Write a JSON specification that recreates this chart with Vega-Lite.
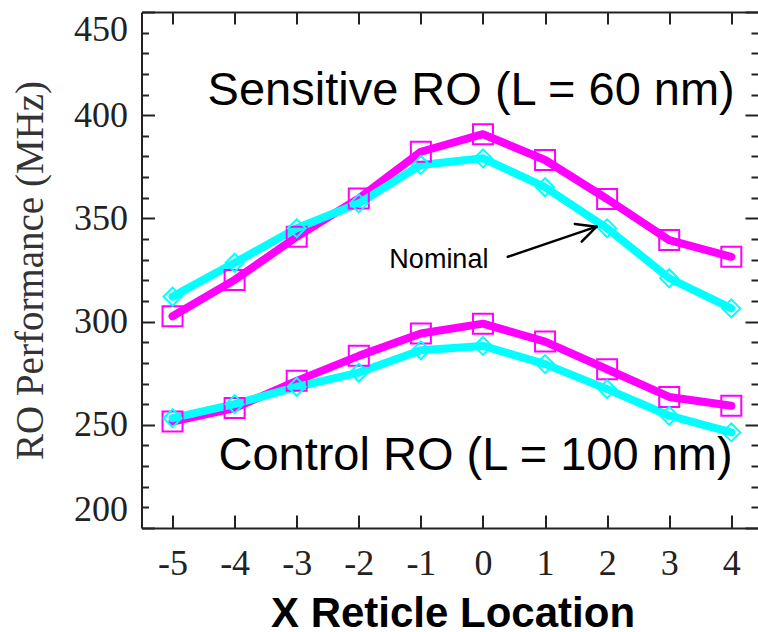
{
  "$schema": "https://vega.github.io/schema/vega-lite/v6.json",
  "autosize": "none",
  "padding": {"left": 141.5, "top": 12, "right": 0, "bottom": 104},
  "width": 616.5,
  "height": 516,
  "background": "white",
  "config": {"view": {"stroke": null}},
  "datasets": {
    "ro": [
      {"loc": -5, "mhz": 302.6, "curve": "Shifted", "ro": "Sensitive"},
      {"loc": -4, "mhz": 320.2, "curve": "Shifted", "ro": "Sensitive"},
      {"loc": -3, "mhz": 341.1, "curve": "Shifted", "ro": "Sensitive"},
      {"loc": -2, "mhz": 359.7, "curve": "Shifted", "ro": "Sensitive"},
      {"loc": -1, "mhz": 382.3, "curve": "Shifted", "ro": "Sensitive"},
      {"loc": 0, "mhz": 390.8, "curve": "Shifted", "ro": "Sensitive"},
      {"loc": 1, "mhz": 378.3, "curve": "Shifted", "ro": "Sensitive"},
      {"loc": 2, "mhz": 359.4, "curve": "Shifted", "ro": "Sensitive"},
      {"loc": 3, "mhz": 339.5, "curve": "Shifted", "ro": "Sensitive"},
      {"loc": 4, "mhz": 331.4, "curve": "Shifted", "ro": "Sensitive"},
      {"loc": -5, "mhz": 312.1, "curve": "Nominal", "ro": "Sensitive"},
      {"loc": -4, "mhz": 328.5, "curve": "Nominal", "ro": "Sensitive"},
      {"loc": -3, "mhz": 345.2, "curve": "Nominal", "ro": "Sensitive"},
      {"loc": -2, "mhz": 357.3, "curve": "Nominal", "ro": "Sensitive"},
      {"loc": -1, "mhz": 375.9, "curve": "Nominal", "ro": "Sensitive"},
      {"loc": 0, "mhz": 379.1, "curve": "Nominal", "ro": "Sensitive"},
      {"loc": 1, "mhz": 365.1, "curve": "Nominal", "ro": "Sensitive"},
      {"loc": 2, "mhz": 345.2, "curve": "Nominal", "ro": "Sensitive"},
      {"loc": 3, "mhz": 321.0, "curve": "Nominal", "ro": "Sensitive"},
      {"loc": 4, "mhz": 306.4, "curve": "Nominal", "ro": "Sensitive"},
      {"loc": -5, "mhz": 251.6, "curve": "Shifted", "ro": "Control"},
      {"loc": -4, "mhz": 258.1, "curve": "Shifted", "ro": "Control"},
      {"loc": -3, "mhz": 271.3, "curve": "Shifted", "ro": "Control"},
      {"loc": -2, "mhz": 283.4, "curve": "Shifted", "ro": "Control"},
      {"loc": -1, "mhz": 294.2, "curve": "Shifted", "ro": "Control"},
      {"loc": 0, "mhz": 299.0, "curve": "Shifted", "ro": "Control"},
      {"loc": 1, "mhz": 290.3, "curve": "Shifted", "ro": "Control"},
      {"loc": 2, "mhz": 276.9, "curve": "Shifted", "ro": "Control"},
      {"loc": 3, "mhz": 263.5, "curve": "Shifted", "ro": "Control"},
      {"loc": 4, "mhz": 259.2, "curve": "Shifted", "ro": "Control"},
      {"loc": -5, "mhz": 253.2, "curve": "Nominal", "ro": "Control"},
      {"loc": -4, "mhz": 260.0, "curve": "Nominal", "ro": "Control"},
      {"loc": -3, "mhz": 268.4, "curve": "Nominal", "ro": "Control"},
      {"loc": -2, "mhz": 275.3, "curve": "Nominal", "ro": "Control"},
      {"loc": -1, "mhz": 286.1, "curve": "Nominal", "ro": "Control"},
      {"loc": 0, "mhz": 288.2, "curve": "Nominal", "ro": "Control"},
      {"loc": 1, "mhz": 279.4, "curve": "Nominal", "ro": "Control"},
      {"loc": 2, "mhz": 267.3, "curve": "Nominal", "ro": "Control"},
      {"loc": 3, "mhz": 254.4, "curve": "Nominal", "ro": "Control"},
      {"loc": 4, "mhz": 246.3, "curve": "Nominal", "ro": "Control"}
    ]
  },
  "resolve": {"axis": {"x": "independent", "y": "independent"}},
  "layer": [
    {
      "data": {"name": "ro"},
      "transform": [{"filter": "datum.curve === 'Shifted'"}],
      "mark": {"type": "line", "color": "#FF00FF", "strokeWidth": 8, "strokeJoin": "round", "strokeCap": "round"},
      "encoding": {
        "x": {
          "field": "loc", "type": "quantitative",
          "scale": {"domain": [-5.5, 4.43], "nice": false, "zero": false},
          "axis": {
            "orient": "bottom", "values": [-5, -4, -3, -2, -1, 0, 1, 2, 3, 4],
            "labelExpr": "datum.value < 0 ? '-' + abs(datum.value) : '' + datum.value",
            "grid": false, "tickSize": -13, "tickWidth": 2, "tickColor": "#222",
            "domainColor": "#222", "domainWidth": 2,
            "labelFont": "Liberation Serif", "labelFontSize": 36, "labelColor": "#222",
            "labelPadding": 31, "labelFlush": false, "labelOverlap": false, "labelBaseline": "top",
            "title": "X Reticle Location", "titleFont": "Liberation Sans", "titleFontSize": 42,
            "titleFontWeight": "bold", "titleColor": "black", "titleBaseline": "alphabetic",
            "titleY": 98, "titleX": 311
          }
        },
        "y": {
          "field": "mhz", "type": "quantitative",
          "scale": {"domain": [200, 450], "nice": false, "zero": false},
          "axis": {
            "orient": "left", "values": [200, 250, 300, 350, 400, 450],
            "grid": false, "tickSize": -13, "tickWidth": 2, "tickColor": "#222",
            "domainColor": "#222", "domainWidth": 2,
            "labelFont": "Liberation Serif", "labelFontSize": 36, "labelColor": "#222",
            "labelPadding": 27, "labelOverlap": false, "labelFlush": true, "labelFlushOffset": 0,
            "title": "RO Performance (MHz)", "titleFont": "Liberation Serif", "titleFontSize": 39,
            "titleFontWeight": "normal", "titleColor": "#333", "titleAngle": -90,
            "titleBaseline": "alphabetic", "titleAlign": "center", "titleX": -99.5, "titleY": 258
          }
        },
        "detail": {"field": "ro"}
      }
    },
    {
      "data": {"name": "ro"},
      "transform": [{"filter": "datum.curve === 'Nominal'"}],
      "mark": {"type": "line", "color": "#00FFFF", "strokeWidth": 8, "strokeJoin": "round", "strokeCap": "round"},
      "encoding": {
        "x": {
          "field": "loc", "type": "quantitative",
          "scale": {"domain": [-5.5, 4.43], "nice": false, "zero": false},
          "axis": {
            "orient": "top", "values": [-5, -4, -3, -2, -1, 0, 1, 2, 3, 4],
            "grid": false, "labels": false, "title": null,
            "tickSize": -12, "tickWidth": 2, "tickColor": "#222",
            "domainColor": "#222", "domainWidth": 2
          }
        },
        "y": {
          "field": "mhz", "type": "quantitative",
          "scale": {"domain": [200, 450], "nice": false, "zero": false},
          "axis": {
            "orient": "left", "values": [210, 220, 230, 240, 260, 270, 280, 290, 310, 320, 330, 340, 360, 370, 380, 390, 410, 420, 430, 440],
            "grid": false, "labels": false, "title": null, "domain": false,
            "tickSize": -7, "tickWidth": 2, "tickColor": "#222"
          }
        },
        "detail": {"field": "ro"}
      }
    },
    {
      "data": {"name": "ro"},
      "transform": [{"filter": "datum.curve === 'Shifted'"}],
      "mark": {"type": "point", "shape": "square", "size": 400, "filled": false, "color": "#FF00FF", "strokeWidth": 2, "opacity": 1},
      "encoding": {
        "x": {"field": "loc", "type": "quantitative", "scale": {"domain": [-5.5, 4.43], "nice": false, "zero": false}, "axis": null},
        "y": {
          "field": "mhz", "type": "quantitative",
          "scale": {"domain": [200, 450], "nice": false, "zero": false},
          "axis": {
            "orient": "right", "values": [200, 250, 300, 350, 400, 450],
            "grid": false, "labels": false, "title": null, "domain": false,
            "tickSize": -13, "tickWidth": 2, "tickColor": "#222"
          }
        }
      }
    },
    {
      "data": {"name": "ro"},
      "transform": [{"filter": "datum.curve === 'Nominal'"}],
      "mark": {"type": "point", "shape": "diamond", "size": 324, "filled": false, "color": "#00FFFF", "strokeWidth": 2, "opacity": 1},
      "encoding": {
        "x": {"field": "loc", "type": "quantitative", "scale": {"domain": [-5.5, 4.43], "nice": false, "zero": false}, "axis": null},
        "y": {
          "field": "mhz", "type": "quantitative",
          "scale": {"domain": [200, 450], "nice": false, "zero": false},
          "axis": {
            "orient": "right", "values": [210, 220, 230, 240, 260, 270, 280, 290, 310, 320, 330, 340, 360, 370, 380, 390, 410, 420, 430, 440],
            "grid": false, "labels": false, "title": null, "domain": false,
            "tickSize": -7, "tickWidth": 2, "tickColor": "#222"
          }
        }
      }
    },
    {
      "data": {"values": [
        {"label": "Sensitive RO (L = 60 nm)", "loc": -0.19, "mhz": 404.9},
        {"label": "Control RO (L = 100 nm)", "loc": -0.12, "mhz": 228.1}
      ]},
      "mark": {"type": "text", "font": "Liberation Sans", "fontSize": 47, "color": "black", "align": "center", "baseline": "alphabetic"},
      "encoding": {
        "x": {"field": "loc", "type": "quantitative", "scale": {"domain": [-5.5, 4.43], "nice": false, "zero": false}, "axis": null},
        "y": {"field": "mhz", "type": "quantitative", "scale": {"domain": [200, 450], "nice": false, "zero": false}, "axis": null},
        "text": {"field": "label"}
      }
    },
    {
      "data": {"values": [
        {"label": "Nominal", "loc": -0.71, "mhz": 325.8}
      ]},
      "mark": {"type": "text", "font": "Liberation Sans", "fontSize": 27, "color": "black", "align": "center", "baseline": "alphabetic"},
      "encoding": {
        "x": {"field": "loc", "type": "quantitative", "scale": {"domain": [-5.5, 4.43], "nice": false, "zero": false}, "axis": null},
        "y": {"field": "mhz", "type": "quantitative", "scale": {"domain": [200, 450], "nice": false, "zero": false}, "axis": null},
        "text": {"field": "label"}
      }
    },
    {
      "data": {"values": [
        {"loc": 0.40, "mhz": 331.4, "loc2": 1.83, "mhz2": 346.0},
        {"loc": 1.83, "mhz": 346.0, "loc2": 1.48, "mhz2": 347.3},
        {"loc": 1.83, "mhz": 346.0, "loc2": 1.59, "mhz2": 338.7}
      ]},
      "mark": {"type": "rule", "color": "black", "strokeWidth": 2.5, "strokeCap": "round"},
      "encoding": {
        "x": {"field": "loc", "type": "quantitative", "scale": {"domain": [-5.5, 4.43], "nice": false, "zero": false}, "axis": null},
        "y": {"field": "mhz", "type": "quantitative", "scale": {"domain": [200, 450], "nice": false, "zero": false}, "axis": null},
        "x2": {"field": "loc2"},
        "y2": {"field": "mhz2"}
      }
    }
  ]
}
